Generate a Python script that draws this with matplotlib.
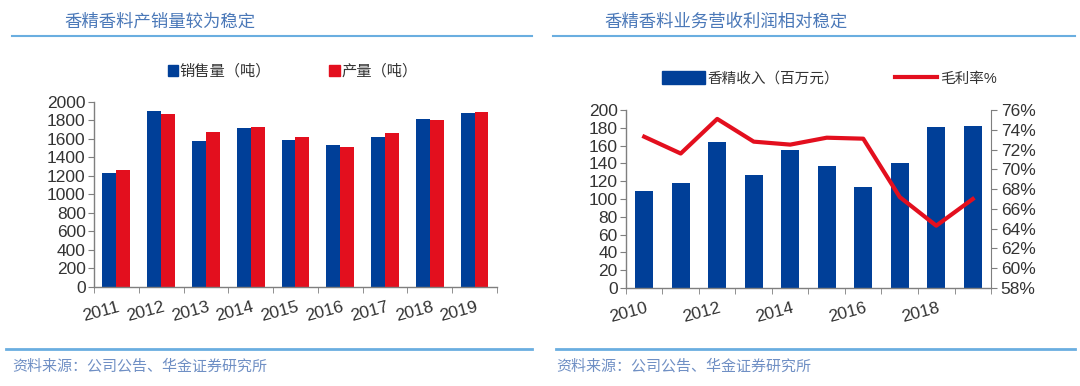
import matplotlib
matplotlib.use('Agg')
import matplotlib.pyplot as plt
import matplotlib.transforms as mtransforms
from matplotlib.lines import Line2D
from matplotlib.patches import Patch
from matplotlib.ticker import FuncFormatter

plt.rcParams['font.family'] = ['Liberation Sans', 'Noto Sans CJK SC', 'DejaVu Sans']

# left chart: sales and production (tonnes)
years_left = ['2011', '2012', '2013', '2014', '2015', '2016', '2017', '2018', '2019']
sales = [1230, 1900, 1575, 1715, 1585, 1530, 1625, 1820, 1880]
production = [1265, 1875, 1680, 1730, 1625, 1515, 1670, 1810, 1895]

# right chart: revenue (million yuan) and gross margin (%)
years_right = ['2010', '2011', '2012', '2013', '2014', '2015', '2016', '2017', '2018', '2019']
revenue = [109, 118, 164, 127, 155, 137, 113, 140, 181, 182]
margin = [73.3, 71.6, 75.1, 72.8, 72.5, 73.2, 73.1, 67.2, 64.3, 67.0]

BLUE = '#003f98'
RED = '#e30f1e'
GREY = '#7f7f7f'
TXT = '#333333'
TITLE = '#4a78b8'
RULE = '#6aaee0'
FS = 12.5

fig = plt.figure(figsize=(10.8, 3.86), dpi=100)
shift = mtransforms.ScaledTranslation(5 / 100, 0, fig.dpi_scale_trans)


def style_axis(ax, n):
    for s in ['top', 'right']:
        ax.spines[s].set_visible(False)
    for s in ['left', 'bottom']:
        ax.spines[s].set_color(GREY)
        ax.spines[s].set_linewidth(1.0)
    ax.set_xlim(-0.5, n - 0.5)
    ax.set_xticks([i + 0.5 for i in range(-1, n)], minor=True)
    ax.tick_params(axis='x', which='major', length=0, pad=9)
    ax.tick_params(axis='x', which='minor', length=4, color=GREY, direction='out')
    ax.tick_params(axis='y', length=4, color=GREY, labelsize=FS, labelcolor=TXT, pad=2)


def shift_labels(ax):
    for lbl in ax.get_xticklabels():
        lbl.set_transform(lbl.get_transform() + shift)


# ---- left panel ----
ax1 = fig.add_axes([0.0870, 0.2565, 0.3731, 0.4793])
x = range(len(years_left))
w = 0.31
ax1.bar([i - w / 2 for i in x], sales, width=w, color=BLUE, label='销售量（吨）')
ax1.bar([i + w / 2 for i in x], production, width=w, color=RED, label='产量（吨）')
ax1.set_ylim(0, 2000)
ax1.set_yticks(range(0, 2001, 200))
style_axis(ax1, len(years_left))
ax1.set_xticks(list(x))
ax1.set_xticklabels(years_left, rotation=15, ha='right', fontsize=FS, color=TXT)
shift_labels(ax1)
ax1.legend(handles=[Patch(color=BLUE, label='销售量（吨）'), Patch(color=RED, label='产量（吨）')],
           loc='center', bbox_to_anchor=(0.271, 0.815), bbox_transform=fig.transFigure,
           ncol=2, frameon=False, fontsize=11, handlelength=0.7, handleheight=0.7,
           handletextpad=0.1, columnspacing=3.8, labelcolor=TXT)

# ---- right panel ----
ax2 = fig.add_axes([0.5796, 0.2539, 0.3380, 0.4611])
xr = list(range(len(years_right)))
ax2.bar(xr, revenue, width=0.5, color=BLUE)
ax2.set_ylim(0, 200)
ax2.set_yticks(range(0, 201, 20))
style_axis(ax2, len(years_right))
ax2.set_xticks(xr[::2])
ax2.set_xticklabels(years_right[::2], rotation=15, ha='right', fontsize=FS, color=TXT)
shift_labels(ax2)

ax3 = ax2.twinx()
ax3.plot(xr, margin, color=RED, linewidth=3)
ax3.set_ylim(58, 76)
ax3.set_yticks(range(58, 77, 2))
ax3.yaxis.set_major_formatter(FuncFormatter(lambda v, p: f'{v:.0f}%'))
for s in ['top', 'left', 'bottom']:
    ax3.spines[s].set_visible(False)
ax3.spines['right'].set_color(GREY)
ax3.tick_params(axis='y', length=4, color=GREY, labelsize=FS, labelcolor=TXT, pad=3)

ax2.legend(handles=[Patch(color=BLUE, label='香精收入（百万元）'),
                    Line2D([], [], color=RED, linewidth=3, label='毛利率%')],
           loc='center', bbox_to_anchor=(0.768, 0.797), bbox_transform=fig.transFigure,
           ncol=2, frameon=False, fontsize=10.5, handlelength=2.9, handleheight=1.0,
           handletextpad=0.2, columnspacing=3.8, labelcolor=TXT)

# ---- titles, rules and source notes ----
fig.text(0.060, 0.945, '香精香料产销量较为稳定', fontsize=12.5, color=TITLE, va='center')
fig.text(0.560, 0.945, '香精香料业务营收利润相对稳定', fontsize=12.5, color=TITLE, va='center')
for x0, x1 in [(0.011, 0.493), (0.512, 0.995)]:
    fig.add_artist(Line2D([x0, x1], [0.907, 0.907], color=RULE, linewidth=1.5))
for x0, x1 in [(0.006, 0.493), (0.515, 0.995)]:
    fig.add_artist(Line2D([x0, x1], [0.096, 0.096], color=RULE, linewidth=2))
fig.text(0.011, 0.052, '资料来源：公司公告、华金证券研究所', fontsize=10.8, color='#6f8fc4', va='center')
fig.text(0.515, 0.052, '资料来源：公司公告、华金证券研究所', fontsize=10.8, color='#6f8fc4', va='center')

fig.savefig('out.png', dpi=100)
